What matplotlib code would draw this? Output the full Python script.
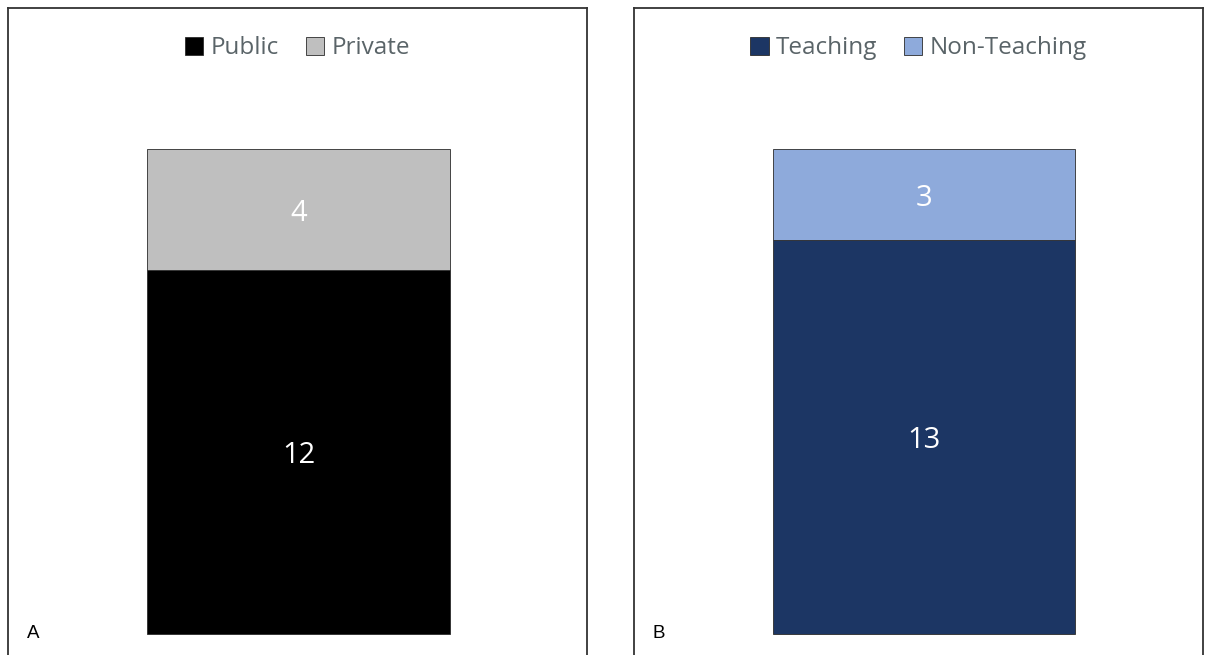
import matplotlib.pyplot as plt

# panel A: ownership
labels_a = ['Public', 'Private']
values_a = [12, 4]
colors_a = ['#000000', '#bfbfbf']

# panel B: teaching status
labels_b = ['Teaching', 'Non-Teaching']
values_b = [13, 3]
colors_b = ['#1c3664', '#8eaadb']

plt.rcParams['font.family'] = ['Open Sans', 'DejaVu Sans']

fig = plt.figure(figsize=(12.1, 6.55), dpi=100)
W, H = 1210, 655


def panel(rect_px, xlim, labels, values, colors, tag):
    x0, y0, x1, y1 = rect_px
    ax = fig.add_axes([x0 / W, 1 - y1 / H, (x1 - x0) / W, (y1 - y0) / H])
    bottom = 0
    for lab, v, c in zip(labels, values, colors):
        ax.bar(0, v, width=1, bottom=bottom, color=c, edgecolor='#2b2b2b',
               linewidth=0.6, label=lab)
        ax.text(0, bottom + v / 2 - 0.12, str(v), ha='center', va='center',
                color='white', fontsize=21)
        bottom += v
    ax.set_xlim(*xlim)
    ax.set_ylim(-0.72, 20.66)
    ax.set_xticks([])
    ax.set_yticks([])
    for s in ax.spines.values():
        s.set_color('#333333')
        s.set_linewidth(1.3)
    ax.legend(loc='upper center', bbox_to_anchor=(0.5, 0.99), ncol=2,
              frameon=False, fontsize=17.5, handlelength=0.75, handleheight=0.75,
              handletextpad=0.3, columnspacing=1.1, labelcolor='#5a6468')
    ax.text(0.043, 0.035, tag, transform=ax.transAxes, fontsize=13.5,
            family=['Liberation Sans', 'DejaVu Sans'], ha='center', va='center')
    return ax


panel((8, 8, 587, 656), ((8 - 298.5) / 303, (587 - 298.5) / 303),
      labels_a, values_a, colors_a, 'A')
panel((634, 8, 1203, 656), ((634 - 924) / 302, (1203 - 924) / 302),
      labels_b, values_b, colors_b, 'B')

fig.savefig('out.png', dpi=100)
